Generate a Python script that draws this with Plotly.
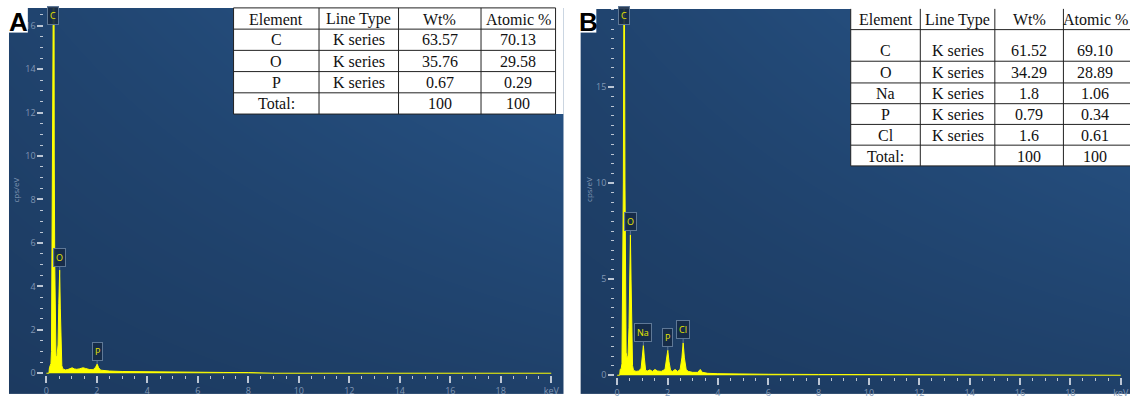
import plotly.graph_objects as go

W, H = 1136, 399


def px(x):
    return x / W


def py(y):
    return 1 - y / H


# ---------------- data ----------------
energy_a = [0.00, 0.10, 0.12, 0.15, 0.18, 0.20, 0.22, 0.245, 0.265, 0.277, 0.29, 0.31, 0.33, 0.35,
            0.38, 0.42, 0.46, 0.49, 0.525, 0.55, 0.58, 0.61, 0.65, 0.75, 0.85, 0.95, 1.02, 1.10,
            1.20, 1.30, 1.45, 1.55, 1.70, 1.85, 1.95, 2.01, 2.07, 2.15, 2.30, 2.50, 3.00, 3.50,
            4.00, 5.00, 6.00, 7.00, 8.00, 8.80, 9.00, 20.0]
counts_a = [0.00, 0.00, 0.25, 0.40, 0.45, 1.00, 5.00, 10.0, 16.0, 40.0, 16.0, 10.0, 5.00, 1.50,
            0.75, 0.80, 1.30, 3.20, 4.75, 3.00, 1.00, 0.35, 0.20, 0.15, 0.17, 0.22, 0.25, 0.20,
            0.18, 0.20, 0.25, 0.22, 0.17, 0.16, 0.28, 0.42, 0.25, 0.14, 0.12, 0.10, 0.08, 0.07,
            0.06, 0.05, 0.04, 0.035, 0.03, 0.02, 0.00, 0.00]

energy_b = [0.00, 0.10, 0.12, 0.16, 0.19, 0.22, 0.245, 0.265, 0.277, 0.29, 0.31, 0.33, 0.355,
            0.39, 0.43, 0.47, 0.50, 0.525, 0.55, 0.58, 0.61, 0.65, 0.75, 0.85, 0.95, 1.00, 1.04,
            1.08, 1.13, 1.20, 1.30, 1.40, 1.50, 1.60, 1.75, 1.90, 1.96, 2.01, 2.06, 2.12, 2.20,
            2.30, 2.40, 2.50, 2.57, 2.62, 2.67, 2.74, 2.82, 3.00, 3.20, 3.30, 3.38, 3.60, 4.00,
            5.00, 6.00, 8.00, 10.0, 12.0, 13.6, 13.7, 20.0]
counts_b = [0.00, 0.00, 0.30, 0.35, 0.60, 4.00, 10.0, 19.0, 45.0, 19.0, 10.0, 4.00, 1.20,
            0.90, 1.00, 2.50, 5.50, 7.30, 5.00, 2.00, 0.50, 0.25, 0.20, 0.22, 0.35, 1.00, 1.55,
            0.90, 0.25, 0.22, 0.28, 0.20, 0.30, 0.22, 0.20, 0.30, 0.80, 1.30, 0.70, 0.25, 0.20,
            0.30, 0.20, 0.30, 0.90, 1.68, 0.90, 0.30, 0.20, 0.15, 0.15, 0.30, 0.15, 0.10, 0.08,
            0.06, 0.05, 0.04, 0.03, 0.025, 0.02, 0.00, 0.00]

peak_names_a = ["O", "P"]
peak_energy_a = [0.525, 2.01]
peak_height_a = [4.75, 0.42]
peak_names_b = ["O", "Na", "P", "Cl"]
peak_energy_b = [0.525, 1.04, 2.01, 2.62]
peak_height_b = [7.3, 1.55, 1.3, 1.68]
c_energy = 0.277

x_tickvals = [0, 2, 4, 6, 8, 10, 12, 14, 16, 18, 20]
x_ticktext = ["0", "2", "4", "6", "8", "10", "12", "14", "16", "18", "keV"]
y_tickvals_a = [0, 2, 4, 6, 8, 10, 12, 14, 16]
y_tickvals_b = [0, 5, 10, 15]

table_header = ["Element", "Line Type", "Wt%", "Atomic %"]
table_a_element = ["C", "O", "P", "Total:"]
table_a_line = ["K series", "K series", "K series", ""]
table_a_wt = ["63.57", "35.76", "0.67", "100"]
table_a_atomic = ["70.13", "29.58", "0.29", "100"]
table_b_element = ["C", "O", "Na", "P", "Cl", "Total:"]
table_b_line = ["K series", "K series", "K series", "K series", "K series", ""]
table_b_wt = ["61.52", "34.29", "1.8", "0.79", "1.6", "100"]
table_b_atomic = ["69.10", "28.89", "1.06", "0.34", "0.61", "100"]

# ---------------- styles ----------------
YELLOW = "#ffff00"
TICKCOL = "#bcc6d4"
LABCOL = "#8197b4"
BG_SCALE = [[0, "#1c3a60"], [1, "#28568a"]]

fig = go.Figure()

# background gradients (panels)
for xa, ya in (("x", "y"), ("x2", "y2")):
    fig.add_trace(go.Heatmap(z=[[0.1, 0.3], [0.4, 1.0]], x=[0, 1], y=[0, 1], zsmooth="best",
                             colorscale=BG_SCALE, showscale=False, hoverinfo="skip",
                             xaxis=xa, yaxis=ya))

# spectra
fig.add_trace(go.Scatter(x=energy_a, y=counts_a, mode="lines", fill="tozeroy",
                         line=dict(color=YELLOW, width=1), fillcolor=YELLOW,
                         xaxis="x3", yaxis="y3", hoverinfo="skip"))
fig.add_trace(go.Scatter(x=energy_b, y=counts_b, mode="lines", fill="tozeroy",
                         line=dict(color=YELLOW, width=1), fillcolor=YELLOW,
                         xaxis="x4", yaxis="y4", hoverinfo="skip"))

hidden = dict(visible=False, range=[0, 1], fixedrange=True)


def spec_x(domain, rng):
    return dict(domain=domain, range=rng, showgrid=False, zeroline=False, showline=False,
                tickvals=x_tickvals, ticktext=x_ticktext, ticks="outside", ticklen=7,
                tickwidth=1.6, tickcolor=TICKCOL,
                tickfont=dict(family="Open Sans", size=9, color=LABCOL),
                minor=dict(dtick=0.5, tick0=0, ticks="outside", ticklen=3, tickwidth=1.4,
                           tickcolor=TICKCOL))


def spec_y(domain, rng, vals):
    return dict(domain=domain, range=rng, showgrid=False, zeroline=False, showline=False,
                tickvals=vals, ticks="outside", ticklen=6, tickwidth=1.5, tickcolor=TICKCOL,
                tickfont=dict(family="Open Sans", size=9, color=LABCOL),
                minor=dict(dtick=0.5, tick0=0, ticks="outside", ticklen=3, tickwidth=1.4,
                           tickcolor=TICKCOL))


fig.update_layout(
    width=W, height=H, autosize=False,
    margin=dict(l=0, r=0, t=0, b=0),
    paper_bgcolor="white", plot_bgcolor="rgba(0,0,0,0)",
    showlegend=False,
    xaxis=dict(domain=[px(8), px(566)], **hidden),
    yaxis=dict(domain=[0, py(8)], **hidden),
    xaxis2=dict(domain=[px(583), 1], **hidden),
    yaxis2=dict(domain=[0, py(9)], **hidden),
    xaxis3=spec_x([px(43.67), px(556.2)], [-0.08, 20.1]),
    yaxis3=spec_y([py(379.5), py(8)], [-0.07, 16.82], y_tickvals_a),
    xaxis4=spec_x([px(618), px(1134)], [-0.079, 20.29]),
    yaxis4=spec_y([py(381.5), py(9)], [-0.077, 19.055], y_tickvals_b),
)
fig.layout.yaxis3.anchor = "x3"
fig.layout.xaxis3.anchor = "y3"
fig.layout.yaxis4.anchor = "x4"
fig.layout.xaxis4.anchor = "y4"

shapes = []
annos = []

# peak labels
LBL = dict(font=dict(family="Open Sans", size=9, color="#e6e600"),
           bgcolor="rgba(22,42,70,0.9)", bordercolor="#5f7896", borderwidth=1, borderpad=2,
           xanchor="center", yanchor="middle")
for names, es, hs, xa, ya in ((peak_names_a, peak_energy_a, peak_height_a, "x3", "y3"),
                              (peak_names_b, peak_energy_b, peak_height_b, "x4", "y4")):
    for n, e, h in zip(names, es, hs):
        annos.append(dict(x=e, y=h, xref=xa, yref=ya, text=n, showarrow=True, arrowhead=0,
                          arrowwidth=1, arrowcolor="#5f7896", ax=0, ay=-13, **LBL))
annos.append(dict(x=c_energy, y=16.45, xref="x3", yref="y3", text="C", showarrow=False, **LBL))
annos.append(dict(x=c_energy, y=18.7, xref="x4", yref="y4", text="C", showarrow=False, **LBL))

# y titles
for xx in (15, 591):
    annos.append(dict(x=px(xx), y=py(192), xref="paper", yref="paper", text="cps/eV",
                      textangle=-90, showarrow=False, xanchor="center", yanchor="middle",
                      font=dict(family="Open Sans", size=8, color=LABCOL)))

# panel letters
for letter, x0, x1 in (("A", 7, 27), ("B", 582, 599)):
    shapes.append(dict(type="rect", xref="paper", yref="paper", x0=px(x0), x1=px(x1),
                       y0=py(33), y1=py(7), fillcolor="white", line=dict(width=0),
                       layer="above"))
    annos.append(dict(x=px((x0 + x1) / 2 + 0.5), y=py(22), xref="paper", yref="paper",
                      text="<b>%s</b>" % letter, showarrow=False, xanchor="center",
                      yanchor="middle",
                      font=dict(family="Liberation Sans", size=26, color="black")))


# tables
def add_table(cols_x, rows_y, text_y, text_x, columns, fill_x1, top_line):
    shapes.append(dict(type="rect", xref="paper", yref="paper", x0=px(cols_x[0]), x1=px(fill_x1),
                       y0=py(rows_y[-1]), y1=py(rows_y[0] - 1), fillcolor="white",
                       line=dict(width=0), layer="above"))
    for xv in cols_x:
        if xv > W - 0.5:
            continue
        shapes.append(dict(type="line", xref="paper", yref="paper", x0=px(xv), x1=px(xv),
                           y0=py(rows_y[-1]), y1=py(rows_y[0]),
                           line=dict(color="#222", width=1), layer="above"))
    ys = rows_y if top_line else rows_y[1:]
    for yv in ys:
        shapes.append(dict(type="line", xref="paper", yref="paper", x0=px(cols_x[0]),
                           x1=px(min(cols_x[-1], W)), y0=py(yv), y1=py(yv),
                           line=dict(color="#222", width=1), layer="above"))
    for ci, col in enumerate(columns):
        cx = text_x[ci]
        for ri, txt in enumerate(col):
            if txt == "":
                continue
            annos.append(dict(x=px(cx), y=py(text_y[ri]), xref="paper", yref="paper",
                              text=txt, showarrow=False, xanchor="center", yanchor="middle",
                              font=dict(family="Liberation Serif", size=16, color="#111")))


add_table([234, 320, 400, 483, 558], [8, 29.5, 51, 72.5, 94, 115.5],
          [19.5, 40.5, 62, 83.5, 105], [277, 360, 441.5, 520.5],
          [[table_header[0]] + table_a_element, [table_header[1]] + table_a_line,
           [table_header[2]] + table_a_wt, [table_header[3]] + table_a_atomic],
          566, True)
add_table([855, 925, 1000, 1069, 1140], [9, 30, 62, 84, 105, 126, 147, 168],
          [20, 51, 73, 95, 116, 137, 158], [890, 962.5, 1034.5, 1101],
          [[table_header[0]] + table_b_element, [table_header[1]] + table_b_line,
           [table_header[2]] + table_b_wt, [table_header[3]] + table_b_atomic],
          W, False)

fig.update_layout(shapes=shapes, annotations=annos)
fig.write_html(
    "out.html",
    config={"displayModeBar": False},
    post_script=("document.documentElement.style.margin='0';"
                 "document.documentElement.style.overflow='hidden';"
                 "document.body.style.margin='0';document.body.style.padding='0';"
                 "document.body.style.overflow='hidden';"),
)
